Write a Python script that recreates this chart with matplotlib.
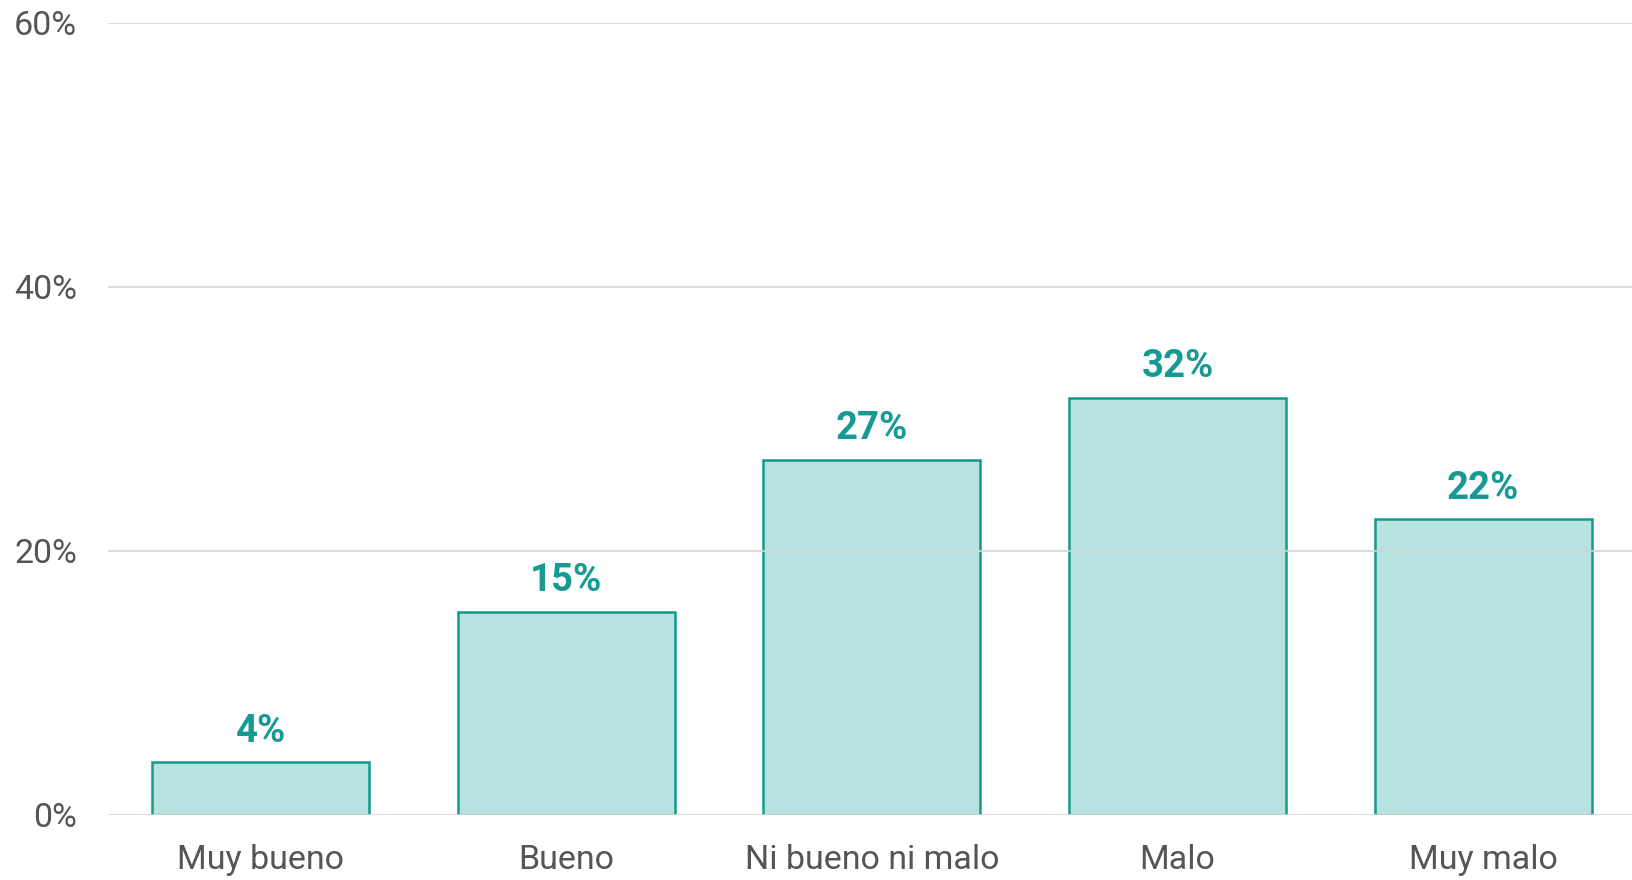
import matplotlib
matplotlib.use("Agg")
import matplotlib.pyplot as plt
from matplotlib.ticker import FuncFormatter

# data
categories = ["Muy bueno", "Bueno", "Ni bueno ni malo", "Malo", "Muy malo"]
values = [4.0, 15.4, 26.9, 31.6, 22.4]
labels = ["4%", "15%", "27%", "32%", "22%"]
yticks = [0, 20, 40, 60]

plt.rcParams['font.family'] = ['Roboto', 'DejaVu Sans']

fig = plt.figure(figsize=(16.33, 8.8), dpi=100)
ax = fig.add_axes([0.066, 0.074, 0.934, 0.9])

x = range(len(categories))
bars = ax.bar(x, values, width=0.71, color="#b8e2e0", edgecolor="#15998f",
              linewidth=1.8, zorder=2)
ax.set_axisbelow(False)

for b, lab in zip(bars, labels):
    ax.annotate(lab, (b.get_x() + b.get_width() / 2, b.get_height()),
                xytext=(0, 9), textcoords="offset points",
                ha="center", va="bottom", fontsize=27.5, fontweight="bold",
                color="#179a93")

ax.set_ylim(0, 60)
ax.set_xlim(-0.5, 4.49)
ax.set_yticks(yticks)
ax.yaxis.set_major_formatter(FuncFormatter(lambda v, p: f"{v:.0f}%"))
ax.set_xticks(list(x))
ax.set_xticklabels(categories)
ax.tick_params(axis="both", length=0, labelsize=24.5, labelcolor="#555555")
ax.tick_params(axis="y", pad=22)
ax.tick_params(axis="x", pad=21)
ax.grid(axis="y", color="#d4d4d4", linewidth=1.2, zorder=3)
for s in ax.spines.values():
    s.set_visible(False)

fig.savefig("out.png", dpi=100)
